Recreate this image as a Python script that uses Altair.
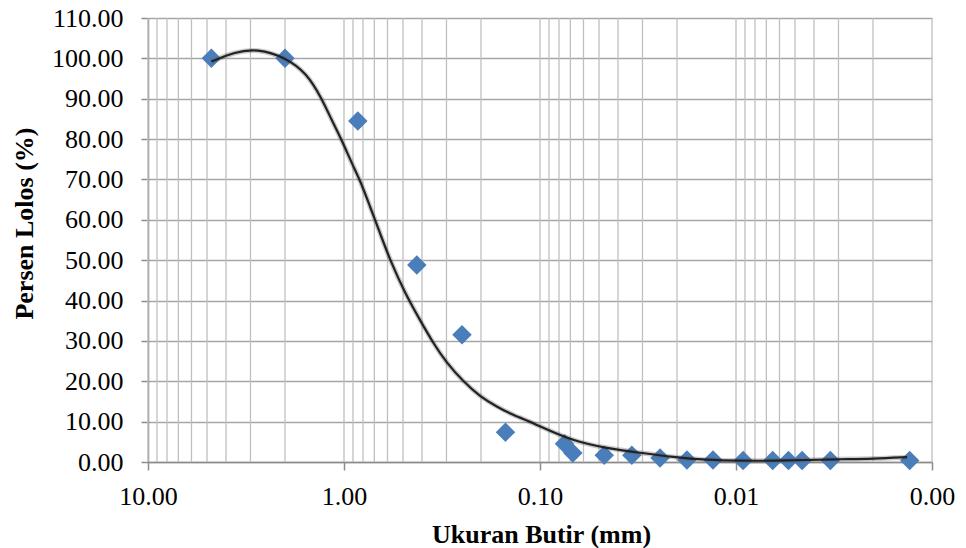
import altair as alt
import pandas as pd

# Sieve analysis (mm, % passing)
sieve_mm = [4.75, 2.0, 0.85, 0.425, 0.25, 0.15, 0.075]
sieve_pass = [100.0, 100.0, 84.5, 48.8, 31.5, 7.4, 4.5]

# Hydrometer readings (mm, % passing)
hydro_mm = [0.068, 0.047, 0.034, 0.0244, 0.0178, 0.0131, 0.0092, 0.0065,
            0.0054, 0.0046, 0.0033, 0.0013]
hydro_pass = [2.2, 1.7, 1.7, 1.0, 0.5, 0.5, 0.4, 0.4, 0.4, 0.4, 0.4, 0.4]

# Smoothed gradation curve
trend_mm = [4.75, 3.6, 2.78, 1.98, 1.55, 1.30, 1.156, 1.027, 0.913, 0.829,
            0.737, 0.655, 0.582, 0.488, 0.41, 0.35, 0.299, 0.246, 0.202,
            0.166, 0.137, 0.1124, 0.1, 0.0679, 0.0455, 0.0309, 0.0209,
            0.0141, 0.00955, 0.00648, 0.00434, 0.00295, 0.002, 0.00134]
trend_pass = [99.2, 101.6, 102.4, 100.2, 96.3, 90.1, 84.7, 79.8, 74.0, 69.9,
              63.3, 56.7, 50.0, 41.8, 35.2, 29.4, 24.5, 19.9, 16.2,
              13.7, 11.6, 10.0, 8.8, 5.2, 3.4, 2.3, 1.2,
              0.5, 0.3, 0.3, 0.5, 0.7, 0.8, 1.2]

# Axis ticks
x_major = [10, 1, 0.1, 0.01, 0.001]
y_ticks = list(range(0, 111, 10))
x_minor = [m * d for d in [1, 0.1, 0.01, 0.001] for m in range(2, 10)]
x_grid = x_major + x_minor

points = pd.DataFrame({"mm": sieve_mm + hydro_mm, "lolos": sieve_pass + hydro_pass})
trend = pd.DataFrame({"mm": trend_mm, "lolos": trend_pass})
vgrid = pd.DataFrame({"mm": x_grid})

FONT = "Liberation Serif"

x_scale = alt.Scale(type="log", domain=[0.001, 10], reverse=True, nice=False)
y_scale = alt.Scale(domain=[0, 110], nice=False)

x_axis = alt.Axis(
    values=x_major, format=".2f", grid=False,
    title="Ukuran Butir (mm)", titleFont=FONT, titleFontSize=26,
    titleFontWeight="bold", titleColor="black", titleX=393, titleY=72,
    titleBaseline="middle",
    labelFont=FONT, labelFontSize=26, labelColor="black", labelPadding=13,
    tickSize=8, tickColor="#8c8c8c", tickWidth=1.5,
    domainColor="#8c8c8c", domainWidth=1.5, labelFlush=False,
)
y_axis = alt.Axis(
    values=y_ticks, format=".2f", grid=True, gridColor="#a6a6a6",
    gridWidth=1.3,
    title="Persen Lolos (%)", titleFont=FONT, titleFontSize=26,
    titleFontWeight="bold", titleColor="black", titleX=-124, titleY=205,
    titleBaseline="middle", titleAngle=270,
    labelFont=FONT, labelFontSize=26, labelColor="black", labelPadding=18,
    tickSize=7, tickColor="#8c8c8c", tickWidth=1.5,
    domainColor="#8c8c8c", domainWidth=1.5, labelFlush=False,
)

# Vertical log grid (decades plus 2..9 subdivisions)
grid_layer = alt.Chart(vgrid).mark_rule(color="#bfbfbf", strokeWidth=1.3).encode(
    x=alt.X("mm:Q", scale=x_scale, axis=x_axis)
)

point_layer = alt.Chart(points).mark_point(
    shape="diamond", filled=True, size=380, color="#4a7ebb", opacity=1
).encode(
    x=alt.X("mm:Q", scale=x_scale, axis=x_axis),
    y=alt.Y("lolos:Q", scale=y_scale, axis=y_axis),
)

halo_layer = alt.Chart(trend).mark_line(
    interpolate="basis", color="#555555", strokeWidth=5, opacity=0.3
).encode(
    x=alt.X("mm:Q", scale=x_scale, axis=x_axis),
    y=alt.Y("lolos:Q", scale=y_scale, axis=y_axis),
)

curve_layer = alt.Chart(trend).mark_line(
    interpolate="basis", color="#222222", strokeWidth=2.2
).encode(
    x=alt.X("mm:Q", scale=x_scale, axis=x_axis),
    y=alt.Y("lolos:Q", scale=y_scale, axis=y_axis),
)

chart = alt.layer(grid_layer, point_layer, halo_layer, curve_layer).properties(
    width=784, height=444,
    autosize=alt.AutoSizeParams(type="none"),
    padding={"left": 148, "top": 18, "right": 34, "bottom": 86},
    background="white",
).configure_view(stroke=None)

chart.save("out.html", embed_options={"renderer": "svg", "actions": False})
